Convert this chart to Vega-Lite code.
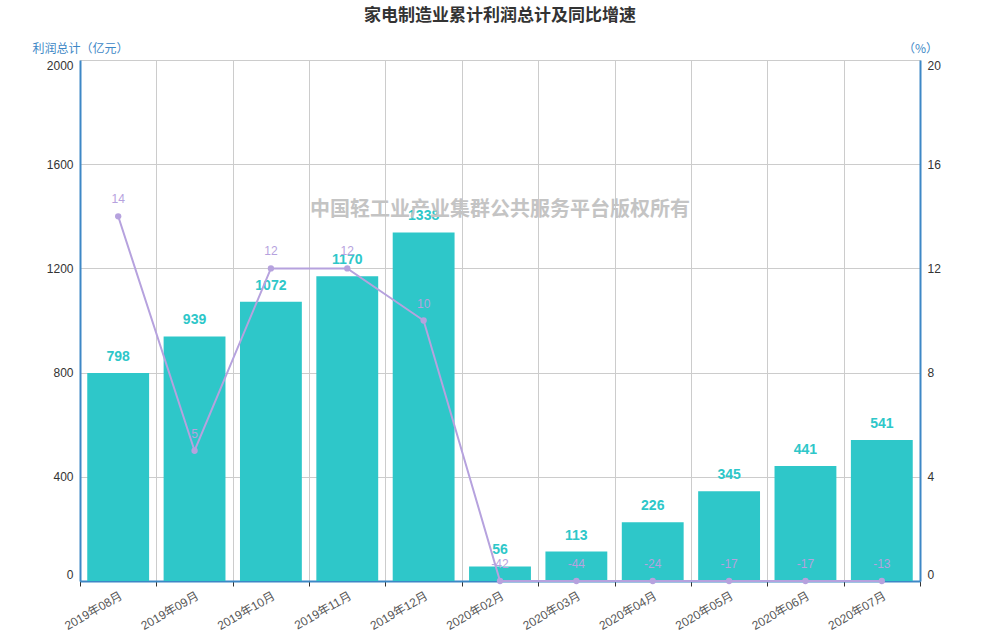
{
  "$schema": "https://vega.github.io/schema/vega-lite/v6.json",
  "autosize": {"type": "none"},
  "width": 840,
  "height": 521,
  "padding": {"left": 80, "top": 60, "right": 80, "bottom": 59},
  "background": "white",
  "title": {
    "text": "家电制造业累计利润总计及同比增速",
    "fontSize": 17,
    "fontWeight": "bold",
    "color": "#333333",
    "font": "Noto Sans CJK SC",
    "anchor": "middle",
    "offset": 17
  },
  "config": {
    "view": {"stroke": null},
    "font": "Liberation Sans, Noto Sans CJK SC"
  },
  "data": {
    "values": [
      {"month": "2019年08月", "profit": 798, "growth": 14},
      {"month": "2019年09月", "profit": 939, "growth": 5},
      {"month": "2019年10月", "profit": 1072, "growth": 12},
      {"month": "2019年11月", "profit": 1170, "growth": 12},
      {"month": "2019年12月", "profit": 1338, "growth": 10},
      {"month": "2020年02月", "profit": 56, "growth": -42},
      {"month": "2020年03月", "profit": 113, "growth": -44},
      {"month": "2020年04月", "profit": 226, "growth": -24},
      {"month": "2020年05月", "profit": 345, "growth": -17},
      {"month": "2020年06月", "profit": 441, "growth": -17},
      {"month": "2020年07月", "profit": 541, "growth": -13}
    ]
  },
  "encoding": {
    "x": {
      "field": "month",
      "type": "nominal",
      "scale": {
        "domain": ["2019年08月", "2019年09月", "2019年10月", "2019年11月", "2019年12月", "2020年02月", "2020年03月", "2020年04月", "2020年05月", "2020年06月", "2020年07月"],
        "paddingInner": 0,
        "paddingOuter": 0
      },
      "axis": {
        "title": null,
        "labelAngle": -30,
        "labelFontSize": 12,
        "labelColor": "#555555",
        "labelFont": "Liberation Sans, Noto Sans CJK SC",
        "labelPadding": 4,
        "tickBand": "extent",
        "ticks": true,
        "tickColor": "#333333",
        "tickSize": 5,
        "grid": true,
        "gridColor": "#cccccc",
        "domainColor": "#3d87c6",
        "domainWidth": 2
      }
    }
  },
  "layer": [
    {
      "layer": [
        {
          "mark": {"type": "bar", "color": "#2ec7c9", "width": {"band": 0.81}},
          "encoding": {
            "y": {
              "field": "profit",
              "type": "quantitative",
              "scale": {"domain": [0, 2000], "nice": false},
              "axis": {
                "title": "利润总计（亿元）",
                "titleAngle": 0,
                "titleX": 0,
                "titleY": -12,
                "titleAlign": "center",
                "titleBaseline": "middle",
                "titleFontSize": 12,
                "titleFontWeight": "normal",
                "titleColor": "#3d87c6",
                "titleFont": "Noto Sans CJK SC",
                "values": [0, 400, 800, 1200, 1600, 2000],
                "format": "d",
                "labelFlush": true,
                "labelColor": "#333333",
                "labelFontSize": 12,
                "labelPadding": 7,
                "ticks": false,
                "grid": true,
                "gridColor": "#cccccc",
                "domainColor": "#3d87c6",
                "domainWidth": 2
              }
            }
          }
        },
        {
          "mark": {"type": "text", "color": "#2ec7c9", "fontWeight": "bold", "fontSize": 14, "font": "Liberation Sans", "baseline": "bottom", "dy": -9},
          "encoding": {
            "y": {"field": "profit", "type": "quantitative"},
            "text": {"field": "profit", "type": "nominal"}
          }
        },
        {
          "data": {"values": [{"month": "2020年02月", "v": 1424, "t": "中国轻工业产业集群公共服务平台版权所有"}]},
          "mark": {"type": "text", "color": "#c4c4c4", "fontWeight": "bold", "fontSize": 20, "font": "Noto Sans CJK SC", "baseline": "middle", "align": "center"},
          "encoding": {
            "y": {"field": "v", "type": "quantitative"},
            "text": {"field": "t", "type": "nominal"}
          }
        }
      ]
    },
    {
      "layer": [
        {
          "mark": {"type": "line", "color": "#b6a2de", "strokeWidth": 2, "point": {"filled": true, "size": 40, "color": "#b6a2de"}},
          "encoding": {
            "y": {
              "field": "growth",
              "type": "quantitative",
              "scale": {"domain": [0, 20], "nice": false, "clamp": true},
              "axis": {
                "orient": "right",
                "title": "（%）",
                "titleAngle": 0,
                "titleX": 0,
                "titleY": -12,
                "titleAlign": "center",
                "titleBaseline": "middle",
                "titleFontSize": 12,
                "titleFontWeight": "normal",
                "titleColor": "#3d87c6",
                "titleFont": "Noto Sans CJK SC",
                "values": [0, 4, 8, 12, 16, 20],
                "format": "d",
                "labelFlush": true,
                "labelColor": "#333333",
                "labelFontSize": 12,
                "labelPadding": 7,
                "ticks": false,
                "grid": false,
                "domainColor": "#3d87c6",
                "domainWidth": 2
              }
            }
          }
        },
        {
          "mark": {"type": "text", "color": "#b6a2de", "fontSize": 12, "font": "Liberation Sans", "baseline": "bottom", "dy": -10},
          "encoding": {
            "y": {"field": "growth", "type": "quantitative"},
            "text": {"field": "growth", "type": "nominal"}
          }
        }
      ]
    }
  ],
  "resolve": {"scale": {"y": "independent"}}
}
